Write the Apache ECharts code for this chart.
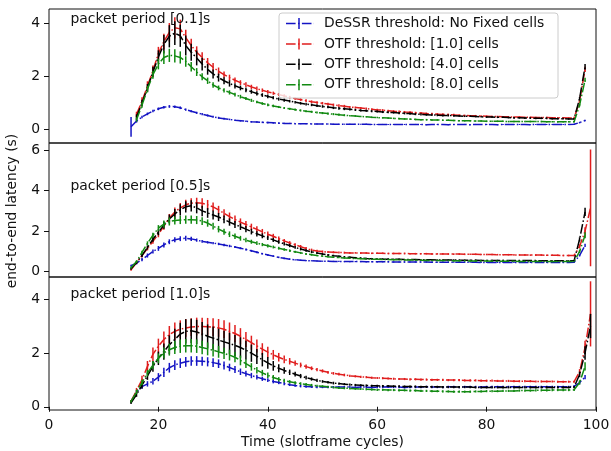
<!DOCTYPE html>
<html>
<head>
<meta charset="utf-8">
<script src="https://cdn.jsdelivr.net/npm/echarts/dist/echarts.min.js"></script>
<style>
  html, body { margin: 0; padding: 0; background: #fff; }
  #chart { width: 611px; height: 451px; }
</style>
</head>
<body>
<div id="chart"></div>
<script>
// Slotframe cycles sampled in every panel
const cycles = [
  15,16,17,18,19,20,21,22,23,24,
  25,26,27,28,29,30,31,32,33,34,
  35,36,37,38,39,40,41,42,43,44,
  45,46,47,48,49,50,51,52,53,54,
  55,56,57,58,59,60,61,62,63,64,
  65,66,67,68,69,70,71,72,73,74,
  75,76,77,78,79,80,81,82,83,84,
  85,86,87,88,89,90,91,92,93,94,
  95,96,97,98,99
];

const seriesNames = [
  'DeSSR threshold: No Fixed cells',
  'OTF threshold: [1.0] cells',
  'OTF threshold: [4.0] cells',
  'OTF threshold: [8.0] cells'
];
const panelTitles = ['packet period [0.1]s', 'packet period [0.5]s', 'packet period [1.0]s'];
const yTicks = [[0, 2, 4], [0, 2, 4, 6], [0, 2, 4]];
const xTicks = [0, 20, 40, 60, 80, 100];

// ---- packet period 0.1 s : mean end-to-end latency (s) ----
const top_dessr = [
  0.08,0.30,0.45,0.57,0.68,0.76,0.82,0.85,0.84,0.80,
  0.73,0.67,0.61,0.56,0.51,0.46,0.42,0.39,0.36,0.33,
  0.31,0.29,0.27,0.26,0.25,0.24,0.23,0.22,0.21,0.21,
  0.20,0.20,0.20,0.19,0.19,0.19,0.19,0.18,0.18,0.18,
  0.18,0.18,0.18,0.18,0.17,0.17,0.17,0.17,0.17,0.17,
  0.17,0.17,0.17,0.17,0.16,0.17,0.17,0.17,0.16,0.17,
  0.17,0.17,0.16,0.17,0.17,0.17,0.17,0.16,0.17,0.17,
  0.17,0.17,0.17,0.16,0.17,0.17,0.17,0.17,0.17,0.17,
  0.17,0.18,0.24,0.32,null
];
const top_otf1 = [
  null,0.55,1.05,1.62,2.20,2.85,3.30,3.65,3.82,3.78,
  3.45,3.15,2.90,2.70,2.50,2.33,2.18,2.05,1.94,1.84,
  1.75,1.67,1.59,1.52,1.46,1.40,1.35,1.30,1.25,1.20,
  1.15,1.11,1.07,1.03,1.00,0.97,0.94,0.91,0.88,0.86,
  0.83,0.81,0.79,0.77,0.74,0.72,0.71,0.69,0.67,0.66,
  0.64,0.63,0.61,0.60,0.58,0.57,0.56,0.55,0.54,0.53,
  0.52,0.51,0.50,0.50,0.49,0.48,0.47,0.47,0.46,0.46,
  0.45,0.45,0.44,0.44,0.43,0.43,0.43,0.42,0.42,0.42,
  0.41,0.41,1.05,2.25,null
];
const top_otf4 = [
  null,0.45,0.98,1.55,2.15,2.72,3.20,3.50,3.62,3.52,
  3.15,2.90,2.68,2.45,2.25,2.08,1.94,1.82,1.72,1.63,
  1.55,1.48,1.41,1.34,1.28,1.23,1.18,1.13,1.09,1.05,
  1.01,0.97,0.94,0.91,0.88,0.85,0.83,0.80,0.78,0.76,
  0.74,0.72,0.70,0.69,0.67,0.66,0.64,0.63,0.62,0.60,
  0.59,0.58,0.56,0.55,0.54,0.53,0.52,0.51,0.51,0.50,
  0.49,0.48,0.48,0.47,0.46,0.45,0.45,0.44,0.44,0.43,
  0.42,0.42,0.41,0.41,0.40,0.40,0.40,0.39,0.39,0.39,
  0.38,0.38,1.15,2.35,null
];
const top_otf8 = [
  null,0.35,0.90,1.50,2.05,2.45,2.70,2.78,2.76,2.70,
  2.55,2.35,2.15,1.97,1.82,1.66,1.55,1.46,1.38,1.30,
  1.22,1.15,1.08,1.02,0.96,0.91,0.87,0.83,0.79,0.76,
  0.73,0.70,0.67,0.65,0.62,0.60,0.58,0.56,0.54,0.52,
  0.50,0.49,0.47,0.46,0.44,0.43,0.42,0.41,0.40,0.39,
  0.38,0.37,0.36,0.35,0.35,0.34,0.34,0.33,0.33,0.32,
  0.31,0.31,0.31,0.30,0.30,0.29,0.29,0.29,0.29,0.28,
  0.28,0.28,0.28,0.28,0.28,0.28,0.27,0.27,0.27,0.27,
  0.27,0.27,0.90,1.85,null
];
// half-width of the error bars (s)
const top_dessr_err = [
  0.37,0.06,0.05,0.05,0.05,0.05,0.05,0.05,0.05,0.05,
  0.04,0.04,0.04,0.04,0.04,0.04,0.04,0.03,0.03,0.03,
  0.03,0.03,0.03,0.03,0.03,0.03,0.03,0.03,0.02,0.02,
  0.02,0.02,0.02,0.02,0.02,0.02,0.02,0.02,0.02,0.02,
  0.02,0.02,0.02,0.02,0.02,0.02,0.02,0.02,0.02,0.02,
  0.02,0.02,0.02,0.02,0.02,0.02,0.02,0.02,0.02,0.02,
  0.02,0.02,0.02,0.02,0.02,0.02,0.02,0.02,0.02,0.02,
  0.02,0.02,0.02,0.02,0.02,0.02,0.02,0.02,0.02,0.02,
  0.02,0.02,0.03,0.03,null
];
const top_otf1_err = [
  null,0.10,0.15,0.18,0.20,0.25,0.30,0.35,0.40,0.35,
  0.30,0.26,0.22,0.20,0.18,0.16,0.14,0.12,0.11,0.10,
  0.09,0.09,0.08,0.08,0.07,0.07,0.06,0.06,0.06,0.05,
  0.05,0.05,0.05,0.05,0.05,0.05,0.05,0.05,0.05,0.05,
  0.04,0.04,0.04,0.04,0.04,0.04,0.04,0.04,0.04,0.04,
  0.04,0.04,0.04,0.04,0.04,0.04,0.04,0.04,0.04,0.04,
  0.03,0.03,0.03,0.03,0.03,0.03,0.03,0.03,0.03,0.03,
  0.03,0.03,0.03,0.03,0.03,0.03,0.03,0.03,0.03,0.03,
  0.03,0.03,0.06,0.10,null
];
const top_otf4_err = [
  null,0.10,0.12,0.15,0.20,0.25,0.35,0.42,0.45,0.42,
  0.38,0.32,0.28,0.24,0.20,0.17,0.15,0.13,0.12,0.10,
  0.09,0.09,0.08,0.08,0.07,0.07,0.06,0.06,0.06,0.05,
  0.05,0.05,0.05,0.05,0.05,0.05,0.05,0.05,0.05,0.05,
  0.04,0.04,0.04,0.04,0.04,0.04,0.04,0.04,0.04,0.04,
  0.04,0.04,0.04,0.04,0.04,0.04,0.04,0.04,0.04,0.04,
  0.03,0.03,0.03,0.03,0.03,0.03,0.03,0.03,0.03,0.03,
  0.03,0.03,0.03,0.03,0.03,0.03,0.03,0.03,0.03,0.03,
  0.03,0.03,0.06,0.10,null
];
const top_otf8_err = [
  null,0.08,0.10,0.12,0.15,0.20,0.25,0.25,0.25,0.23,
  0.20,0.18,0.15,0.13,0.12,0.10,0.09,0.08,0.08,0.07,
  0.07,0.06,0.06,0.05,0.05,0.05,0.05,0.04,0.04,0.04,
  0.04,0.04,0.04,0.04,0.04,0.04,0.04,0.04,0.04,0.04,
  0.03,0.03,0.03,0.03,0.03,0.03,0.03,0.03,0.03,0.03,
  0.03,0.03,0.03,0.03,0.03,0.03,0.03,0.03,0.03,0.03,
  0.03,0.03,0.03,0.03,0.03,0.03,0.03,0.03,0.03,0.03,
  0.03,0.03,0.03,0.03,0.03,0.03,0.03,0.03,0.03,0.03,
  0.03,0.03,0.05,0.08,null
];

// ---- packet period 0.5 s ----
const mid_dessr = [
  0.30,0.42,0.60,0.80,1.00,1.15,1.32,1.48,1.58,1.63,
  1.65,1.62,1.56,1.50,1.45,1.41,1.37,1.32,1.27,1.22,
  1.16,1.10,1.03,0.96,0.89,0.83,0.77,0.71,0.66,0.62,
  0.59,0.57,0.55,0.54,0.53,0.52,0.52,0.51,0.51,0.50,
  0.50,0.50,0.50,0.49,0.49,0.49,0.49,0.49,0.48,0.48,
  0.48,0.48,0.48,0.48,0.48,0.47,0.47,0.47,0.47,0.47,
  0.47,0.47,0.47,0.47,0.46,0.46,0.46,0.46,0.46,0.46,
  0.46,0.46,0.46,0.46,0.46,0.46,0.46,0.46,0.46,0.46,
  0.46,0.47,0.80,1.30,null
];
const mid_otf1 = [
  0.10,0.45,0.80,1.15,1.50,1.85,2.25,2.65,2.95,3.15,
  3.30,3.38,3.40,3.38,3.30,3.20,3.05,2.88,2.72,2.58,
  2.45,2.33,2.21,2.09,1.97,1.85,1.75,1.63,1.52,1.42,
  1.33,1.24,1.15,1.07,1.02,0.99,0.97,0.96,0.95,0.94,
  0.93,0.93,0.92,0.92,0.91,0.91,0.91,0.90,0.90,0.90,
  0.90,0.89,0.89,0.89,0.89,0.88,0.88,0.88,0.87,0.87,
  0.87,0.86,0.86,0.86,0.85,0.85,0.85,0.84,0.84,0.84,
  0.83,0.83,0.83,0.82,0.82,0.82,0.81,0.81,0.81,0.80,
  0.80,0.80,1.25,2.00,3.15
];
const mid_otf4 = [
  0.15,0.45,0.80,1.20,1.60,1.95,2.30,2.60,2.85,3.05,
  3.20,3.25,3.15,3.00,2.90,2.80,2.70,2.58,2.45,2.33,
  2.22,2.10,1.98,1.87,1.77,1.67,1.57,1.47,1.38,1.29,
  1.20,1.12,1.05,0.98,0.92,0.87,0.83,0.79,0.76,0.73,
  0.71,0.69,0.67,0.65,0.64,0.63,0.62,0.62,0.61,0.61,
  0.60,0.60,0.60,0.59,0.59,0.59,0.58,0.58,0.58,0.58,
  0.57,0.57,0.57,0.57,0.56,0.56,0.56,0.56,0.56,0.55,
  0.55,0.55,0.55,0.55,0.55,0.54,0.54,0.54,0.54,0.54,
  0.54,0.55,1.60,2.95,null
];
const mid_otf8 = [
  0.20,0.50,0.95,1.40,1.80,2.15,2.35,2.48,2.53,2.55,
  2.57,2.57,2.55,2.50,2.40,2.25,2.10,1.97,1.85,1.75,
  1.65,1.56,1.48,1.41,1.34,1.28,1.22,1.16,1.10,1.04,
  0.98,0.93,0.88,0.84,0.80,0.77,0.74,0.72,0.70,0.68,
  0.66,0.65,0.64,0.63,0.62,0.61,0.60,0.60,0.59,0.59,
  0.58,0.58,0.57,0.57,0.56,0.56,0.55,0.55,0.55,0.54,
  0.54,0.54,0.53,0.53,0.53,0.53,0.52,0.52,0.52,0.52,
  0.52,0.51,0.51,0.51,0.51,0.51,0.50,0.50,0.50,0.50,
  0.50,0.50,1.00,1.80,null
];
const mid_dessr_err = [
  0.05,0.06,0.08,0.10,0.10,0.12,0.12,0.12,0.12,0.12,
  0.12,0.10,0.08,0.07,0.06,0.06,0.06,0.06,0.06,0.05,
  0.05,0.05,0.05,0.05,0.04,0.04,0.04,0.04,0.04,0.04,
  0.03,0.03,0.03,0.03,0.03,0.03,0.03,0.03,0.03,0.03,
  0.03,0.03,0.03,0.03,0.03,0.03,0.03,0.03,0.03,0.03,
  0.03,0.03,0.03,0.03,0.03,0.03,0.03,0.03,0.03,0.03,
  0.03,0.03,0.03,0.03,0.03,0.03,0.03,0.03,0.03,0.03,
  0.03,0.03,0.03,0.03,0.03,0.03,0.03,0.03,0.03,0.03,
  0.03,0.03,0.05,0.08,null
];
const mid_otf1_err = [
  0.05,0.06,0.08,0.10,0.12,0.15,0.18,0.20,0.22,0.24,
  0.25,0.25,0.25,0.25,0.24,0.22,0.20,0.20,0.20,0.19,
  0.18,0.17,0.16,0.15,0.14,0.13,0.12,0.11,0.10,0.09,
  0.08,0.08,0.07,0.07,0.06,0.06,0.05,0.05,0.05,0.05,
  0.04,0.04,0.04,0.04,0.04,0.04,0.04,0.04,0.04,0.04,
  0.04,0.04,0.04,0.04,0.04,0.04,0.04,0.04,0.04,0.04,
  0.04,0.04,0.04,0.04,0.04,0.04,0.04,0.04,0.04,0.04,
  0.04,0.04,0.04,0.04,0.04,0.04,0.04,0.04,0.04,0.04,
  0.04,0.04,0.10,0.20,2.88
];
const mid_otf4_err = [
  0.05,0.06,0.08,0.10,0.12,0.15,0.18,0.22,0.25,0.28,
  0.28,0.28,0.27,0.26,0.24,0.22,0.20,0.19,0.18,0.17,
  0.16,0.15,0.14,0.13,0.12,0.11,0.10,0.09,0.08,0.08,
  0.07,0.07,0.06,0.06,0.05,0.05,0.05,0.05,0.04,0.04,
  0.04,0.04,0.04,0.04,0.04,0.04,0.04,0.04,0.04,0.04,
  0.03,0.03,0.03,0.03,0.03,0.03,0.03,0.03,0.03,0.03,
  0.03,0.03,0.03,0.03,0.03,0.03,0.03,0.03,0.03,0.03,
  0.03,0.03,0.03,0.03,0.03,0.03,0.03,0.03,0.03,0.03,
  0.03,0.03,0.10,0.20,null
];
const mid_otf8_err = [
  0.05,0.06,0.08,0.10,0.12,0.15,0.18,0.20,0.20,0.20,
  0.20,0.20,0.20,0.19,0.18,0.17,0.16,0.15,0.14,0.13,
  0.12,0.11,0.10,0.09,0.08,0.08,0.07,0.07,0.06,0.06,
  0.05,0.05,0.05,0.05,0.04,0.04,0.04,0.04,0.04,0.04,
  0.03,0.03,0.03,0.03,0.03,0.03,0.03,0.03,0.03,0.03,
  0.03,0.03,0.03,0.03,0.03,0.03,0.03,0.03,0.03,0.03,
  0.03,0.03,0.03,0.03,0.03,0.03,0.03,0.03,0.03,0.03,
  0.03,0.03,0.03,0.03,0.03,0.03,0.03,0.03,0.03,0.03,
  0.03,0.03,0.08,0.15,null
];

// ---- packet period 1.0 s ----
const bot_dessr = [
  0.20,0.55,0.75,0.85,0.95,1.10,1.28,1.45,1.55,1.62,
  1.67,1.70,1.70,1.69,1.67,1.64,1.60,1.53,1.46,1.38,
  1.30,1.23,1.16,1.10,1.04,0.99,0.94,0.90,0.86,0.82,
  0.79,0.77,0.75,0.74,0.73,0.73,0.73,0.73,0.73,0.73,
  0.73,0.72,0.73,0.73,0.72,0.73,0.73,0.74,0.73,0.73,
  0.72,0.73,0.73,0.73,0.74,0.73,0.73,0.73,0.74,0.74,
  0.73,0.74,0.74,0.74,0.73,0.74,0.74,0.74,0.74,0.74,
  0.74,0.74,0.74,0.74,0.74,0.74,0.74,0.74,0.74,0.74,
  0.74,0.76,0.90,1.10,null
];
const bot_otf1 = [
  0.20,0.60,1.00,1.50,1.95,2.25,2.50,2.68,2.80,2.88,
  2.93,2.96,2.98,2.98,2.97,2.96,2.93,2.88,2.80,2.72,
  2.62,2.50,2.38,2.26,2.14,2.03,1.93,1.84,1.76,1.69,
  1.62,1.55,1.49,1.43,1.38,1.33,1.28,1.24,1.21,1.18,
  1.15,1.13,1.11,1.10,1.08,1.07,1.06,1.05,1.04,1.03,
  1.03,1.02,1.02,1.01,1.01,1.00,1.00,1.00,0.99,0.99,
  0.99,0.98,0.98,0.98,0.97,0.97,0.97,0.96,0.96,0.96,
  0.95,0.95,0.95,0.95,0.94,0.94,0.94,0.94,0.93,0.93,
  0.93,0.93,1.30,2.20,3.45
];
const bot_otf4 = [
  0.15,0.45,0.80,1.15,1.50,1.80,2.05,2.30,2.50,2.70,
  2.80,2.82,2.78,2.70,2.62,2.55,2.48,2.41,2.35,2.28,
  2.20,2.10,1.99,1.87,1.75,1.63,1.52,1.43,1.35,1.28,
  1.21,1.14,1.08,1.03,0.98,0.94,0.91,0.88,0.86,0.84,
  0.82,0.81,0.80,0.79,0.78,0.78,0.77,0.77,0.76,0.76,
  0.75,0.75,0.75,0.74,0.74,0.74,0.74,0.73,0.73,0.73,
  0.73,0.73,0.73,0.72,0.72,0.72,0.72,0.72,0.72,0.72,
  0.72,0.72,0.72,0.72,0.72,0.72,0.72,0.72,0.72,0.72,
  0.72,0.73,1.20,2.00,3.00
];
const bot_otf8 = [
  0.20,0.55,0.90,1.25,1.55,1.80,2.00,2.12,2.20,2.25,
  2.27,2.27,2.25,2.20,2.15,2.10,2.04,1.98,1.92,1.84,
  1.72,1.60,1.48,1.36,1.26,1.17,1.09,1.02,0.97,0.93,
  0.89,0.86,0.83,0.80,0.78,0.76,0.74,0.72,0.70,0.69,
  0.68,0.67,0.66,0.65,0.64,0.63,0.63,0.62,0.62,0.61,
  0.61,0.60,0.60,0.59,0.59,0.58,0.58,0.57,0.57,0.56,
  0.56,0.56,0.56,0.57,0.57,0.58,0.58,0.58,0.59,0.59,
  0.59,0.60,0.60,0.60,0.61,0.61,0.61,0.62,0.62,0.62,
  0.62,0.63,0.90,1.50,null
];
const bot_dessr_err = [
  0.05,0.06,0.08,0.10,0.12,0.15,0.17,0.18,0.18,0.18,
  0.18,0.18,0.18,0.17,0.17,0.16,0.16,0.15,0.14,0.13,
  0.12,0.11,0.10,0.09,0.08,0.07,0.07,0.06,0.06,0.05,
  0.05,0.05,0.04,0.04,0.04,0.04,0.04,0.04,0.04,0.04,
  0.04,0.04,0.04,0.04,0.04,0.04,0.04,0.04,0.04,0.04,
  0.04,0.04,0.04,0.04,0.04,0.04,0.04,0.04,0.04,0.04,
  0.04,0.04,0.04,0.04,0.04,0.04,0.04,0.04,0.04,0.04,
  0.04,0.04,0.04,0.04,0.04,0.04,0.04,0.04,0.04,0.04,
  0.04,0.04,0.06,0.08,null
];
const bot_otf1_err = [
  0.05,0.10,0.15,0.20,0.25,0.28,0.30,0.32,0.33,0.33,
  0.33,0.33,0.33,0.33,0.33,0.33,0.33,0.33,0.33,0.32,
  0.30,0.28,0.26,0.24,0.22,0.20,0.18,0.16,0.14,0.12,
  0.10,0.09,0.08,0.07,0.06,0.06,0.05,0.05,0.05,0.05,
  0.04,0.04,0.04,0.04,0.04,0.04,0.04,0.04,0.04,0.04,
  0.04,0.04,0.04,0.04,0.04,0.04,0.04,0.04,0.04,0.04,
  0.04,0.04,0.04,0.04,0.04,0.04,0.04,0.04,0.04,0.04,
  0.04,0.04,0.04,0.04,0.04,0.04,0.04,0.04,0.04,0.04,
  0.04,0.04,0.10,0.25,1.21
];
const bot_otf4_err = [
  0.05,0.08,0.12,0.15,0.20,0.25,0.30,0.35,0.40,0.42,
  0.45,0.45,0.45,0.45,0.44,0.43,0.42,0.41,0.40,0.39,
  0.38,0.35,0.32,0.28,0.25,0.22,0.18,0.15,0.12,0.10,
  0.09,0.08,0.07,0.06,0.06,0.05,0.05,0.05,0.04,0.04,
  0.04,0.04,0.04,0.04,0.04,0.04,0.04,0.04,0.04,0.04,
  0.04,0.04,0.04,0.04,0.04,0.04,0.04,0.04,0.04,0.04,
  0.04,0.04,0.04,0.04,0.04,0.04,0.04,0.04,0.04,0.04,
  0.04,0.04,0.04,0.04,0.04,0.04,0.04,0.04,0.04,0.04,
  0.04,0.04,0.10,0.25,0.45
];
const bot_otf8_err = [
  0.05,0.08,0.10,0.12,0.15,0.18,0.20,0.22,0.24,0.25,
  0.25,0.25,0.25,0.25,0.24,0.23,0.22,0.21,0.20,0.19,
  0.18,0.16,0.14,0.12,0.11,0.10,0.09,0.08,0.07,0.06,
  0.06,0.05,0.05,0.05,0.04,0.04,0.04,0.04,0.04,0.04,
  0.04,0.04,0.04,0.04,0.04,0.04,0.04,0.04,0.04,0.04,
  0.04,0.04,0.04,0.04,0.04,0.04,0.04,0.04,0.04,0.04,
  0.04,0.04,0.04,0.04,0.04,0.04,0.04,0.04,0.04,0.04,
  0.04,0.04,0.04,0.04,0.04,0.04,0.04,0.04,0.04,0.04,
  0.04,0.04,0.08,0.15,null
];

// ---- assembly ----
const panels = [
  { vals: [top_dessr, top_otf1, top_otf4, top_otf8],
    errs: [top_dessr_err, top_otf1_err, top_otf4_err, top_otf8_err] },
  { vals: [mid_dessr, mid_otf1, mid_otf4, mid_otf8],
    errs: [mid_dessr_err, mid_otf1_err, mid_otf4_err, mid_otf8_err] },
  { vals: [bot_dessr, bot_otf1, bot_otf4, bot_otf8],
    errs: [bot_dessr_err, bot_otf1_err, bot_otf4_err, bot_otf8_err] }
];

const colors = ['#1414c4', '#e01e1e', '#000000', '#128a12'];
const FONT = 'DejaVu Sans';
const FS = 13.9;
const DASH_DOT = [9.6, 2.4, 1.5, 2.4];

// plot-area geometry (px)
const L = 49, R = 15;
const gridBoxes = [
  { top: 9, height: 134 },
  { top: 143, height: 134 },
  { top: 277, height: 133 }
];
const yRanges = [[-0.53, 4.53], [-0.26, 6.35], [-0.12, 4.82]];

const grid = gridBoxes.map(g => ({
  left: L, right: R, top: g.top, height: g.height,
  show: true, borderColor: '#111', borderWidth: 1, backgroundColor: 'transparent',
  containLabel: false, outerBoundsMode: 'none'
}));

const xAxis = gridBoxes.map((g, i) => {
  const last = i === gridBoxes.length - 1;
  return {
    gridIndex: i, type: 'value', min: 0, max: 100, interval: 20,
    axisLine: { show: false },
    splitLine: { show: false },
    axisTick: { show: last, length: 5, lineStyle: { color: '#111', width: 1 }, customValues: xTicks },
    axisLabel: { show: last, customValues: xTicks, fontFamily: FONT, fontSize: FS, color: '#111', margin: 8 },
    name: last ? 'Time (slotframe cycles)' : '',
    nameLocation: 'middle', nameGap: 25,
    nameTextStyle: { fontFamily: FONT, fontSize: FS, color: '#111' }
  };
});

const yAxis = gridBoxes.map((g, i) => ({
  gridIndex: i, type: 'value', min: yRanges[i][0], max: yRanges[i][1],
  axisLine: { show: false },
  splitLine: { show: false },
  axisTick: { show: true, length: 5, lineStyle: { color: '#111', width: 1 }, customValues: yTicks[i] },
  axisLabel: { customValues: yTicks[i], fontFamily: FONT, fontSize: FS, color: '#111', margin: 9 }
}));

function errRenderer(color) {
  return function (params, api) {
    const x = api.value(0), y = api.value(1), e = api.value(2);
    const a = api.coord([x, y - e]);
    const b = api.coord([x, y + e]);
    return {
      type: 'line',
      shape: { x1: a[0], y1: a[1], x2: b[0], y2: b[1] },
      style: { stroke: color, lineWidth: 1.5 }
    };
  };
}

const series = [];
panels.forEach((p, pi) => {
  p.vals.forEach((vals, si) => {
    const lineData = cycles.map((c, k) => [c, vals[k]]);
    const errData = cycles
      .map((c, k) => [c, vals[k], p.errs[si][k]])
      .filter(d => d[1] != null && d[2] != null);
    series.push({
      name: seriesNames[si], type: 'line', xAxisIndex: pi, yAxisIndex: pi,
      data: lineData, symbol: 'none', showSymbol: false, connectNulls: false,
      lineStyle: { color: colors[si], width: 1.5, type: DASH_DOT },
      z: 2 + si, silent: true
    });
    series.push({
      name: seriesNames[si], type: 'custom', xAxisIndex: pi, yAxisIndex: pi,
      data: errData, renderItem: errRenderer(colors[si]), clip: true,
      z: 2 + si, silent: true
    });
  });
});

// legend box, drawn with the same handle as the plotted lines
const legendX = 279, legendY = 13, legendW = 279, legendH = 85;
const rowY0 = 23.5, rowStep = 20.4;
const graphic = [
  { type: 'rect', z: 100, shape: { x: legendX, y: legendY, width: legendW, height: legendH, r: 3 },
    style: { fill: 'rgba(255,255,255,0.8)', stroke: '#cccccc', lineWidth: 1 } }
];
seriesNames.forEach((name, i) => {
  const cy = rowY0 + i * rowStep;
  graphic.push({ type: 'line', z: 101, shape: { x1: 286, y1: cy, x2: 314, y2: cy },
    style: { stroke: colors[i], lineWidth: 1.5, lineDash: DASH_DOT } });
  graphic.push({ type: 'line', z: 101, shape: { x1: 299, y1: cy - 5.5, x2: 299, y2: cy + 5.5 },
    style: { stroke: colors[i], lineWidth: 1.5 } });
  graphic.push({ type: 'text', z: 101, x: 324, y: cy,
    style: { text: name, fontFamily: FONT, fontSize: FS, fill: '#111', textVerticalAlign: 'middle', verticalAlign: 'middle' } });
});
// panel annotations
const titleY = [19, 186, 294.5];
panelTitles.forEach((t, i) => {
  graphic.push({ type: 'text', z: 50, x: 70.5, y: titleY[i],
    style: { text: t, fontFamily: FONT, fontSize: FS, fill: '#111', textVerticalAlign: 'middle', verticalAlign: 'middle' } });
});
// shared y-axis title
graphic.push({ type: 'text', z: 50, x: 12, y: 211, rotation: Math.PI / 2,
  style: { text: 'end-to-end latency (s)', fontFamily: FONT, fontSize: FS, fill: '#111',
    textAlign: 'center', align: 'center', textVerticalAlign: 'middle', verticalAlign: 'middle' } });

const chart = echarts.init(document.getElementById('chart'), null, { renderer: 'canvas' });
chart.setOption({
  animation: false,
  backgroundColor: '#ffffff',
  grid, xAxis, yAxis, series, graphic
});
</script>
</body>
</html>
